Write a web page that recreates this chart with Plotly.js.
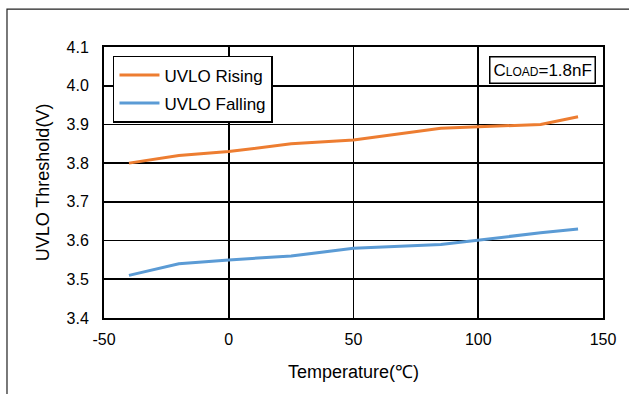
<!DOCTYPE html>
<html>
<head>
<meta charset="utf-8">
<script src="https://cdn.plot.ly/plotly-3.0.1.min.js"></script>
<style>html,body{margin:0;padding:0;background:#fff}#chart{width:629px;height:394px}</style>
</head>
<body>
<div id="chart"></div>
<script>
const temperature = [-40, -20, 0, 25, 50, 85, 125, 140];
const uvloRising = [3.80, 3.82, 3.83, 3.85, 3.86, 3.89, 3.90, 3.92];
const uvloFalling = [3.51, 3.54, 3.55, 3.56, 3.58, 3.59, 3.62, 3.63];
const xTicks = [-50, 0, 50, 100, 150];
const yTicks = [3.4, 3.5, 3.6, 3.7, 3.8, 3.9, 4.0, 4.1];
const yTickText = ['3.4', '3.5', '3.6', '3.7', '3.8', '3.9', '4.0', '4.1'];

const font = 'Liberation Sans, Arial, sans-serif';
const traces = [
  {x: temperature, y: uvloRising, name: 'UVLO Rising', legendgroup: 'a', mode: 'lines', line: {color: '#ED7D31', width: 3}},
  {x: temperature, y: uvloFalling, name: 'UVLO Falling', legendgroup: 'b', mode: 'lines', line: {color: '#5B9BD5', width: 3}}
];
const layout = {
  width: 629, height: 394,
  margin: {l: 104, r: 26, t: 47, b: 76},
  paper_bgcolor: '#fff', plot_bgcolor: '#fff',
  font: {family: font, size: 16, color: '#000'},
  showlegend: true,
  legend: {x: 0.018, y: 0.967, xanchor: 'left', yanchor: 'top', bordercolor: '#000', borderwidth: 1.5,
           bgcolor: '#fff', font: {family: font, size: 17, color: '#000'}, tracegroupgap: 3, itemwidth: 40},
  xaxis: {range: [-50, 150], tickvals: xTicks, ticktext: xTicks.map(String), showgrid: true, gridcolor: '#000', gridwidth: 1.6,
          zeroline: false, showline: true, linecolor: '#000', linewidth: 2, mirror: true, ticks: '',
          ticklabelstandoff: 6, tickfont: {family: font, size: 16, color: '#000'},
          title: {text: 'Temperature(℃)', font: {family: font, size: 18, color: '#000'}, standoff: 18}},
  yaxis: {range: [3.4, 4.1], tickvals: yTicks, ticktext: yTickText, showgrid: true, gridcolor: '#000', gridwidth: 1.6,
          zeroline: false, showline: true, linecolor: '#000', linewidth: 2, mirror: true, ticks: '',
          ticklabelstandoff: 10, tickfont: {family: font, size: 16, color: '#000'},
          title: {text: 'UVLO Threshold(V)', font: {family: font, size: 18, color: '#000'}, standoff: 12}},
  annotations: [{
    xref: 'paper', yref: 'paper', x: 0.986, y: 0.967, xanchor: 'right', yanchor: 'top',
    text: 'C<span style="font-size:12px">LOAD</span>=1.8nF', showarrow: false,
    bordercolor: '#000', borderwidth: 1.5, borderpad: 3, bgcolor: '#fff',
    font: {family: font, size: 17, color: '#000'}
  }],
  shapes: [{type: 'rect', xref: 'paper', yref: 'paper', x0: -0.1944, x1: 1.2, y0: -0.5, y1: 1.14,
            line: {color: '#222', width: 1.2}, layer: 'below'}]
};
Plotly.newPlot('chart', traces, layout, {staticPlot: true, displayModeBar: false});
</script>
</body>
</html>
